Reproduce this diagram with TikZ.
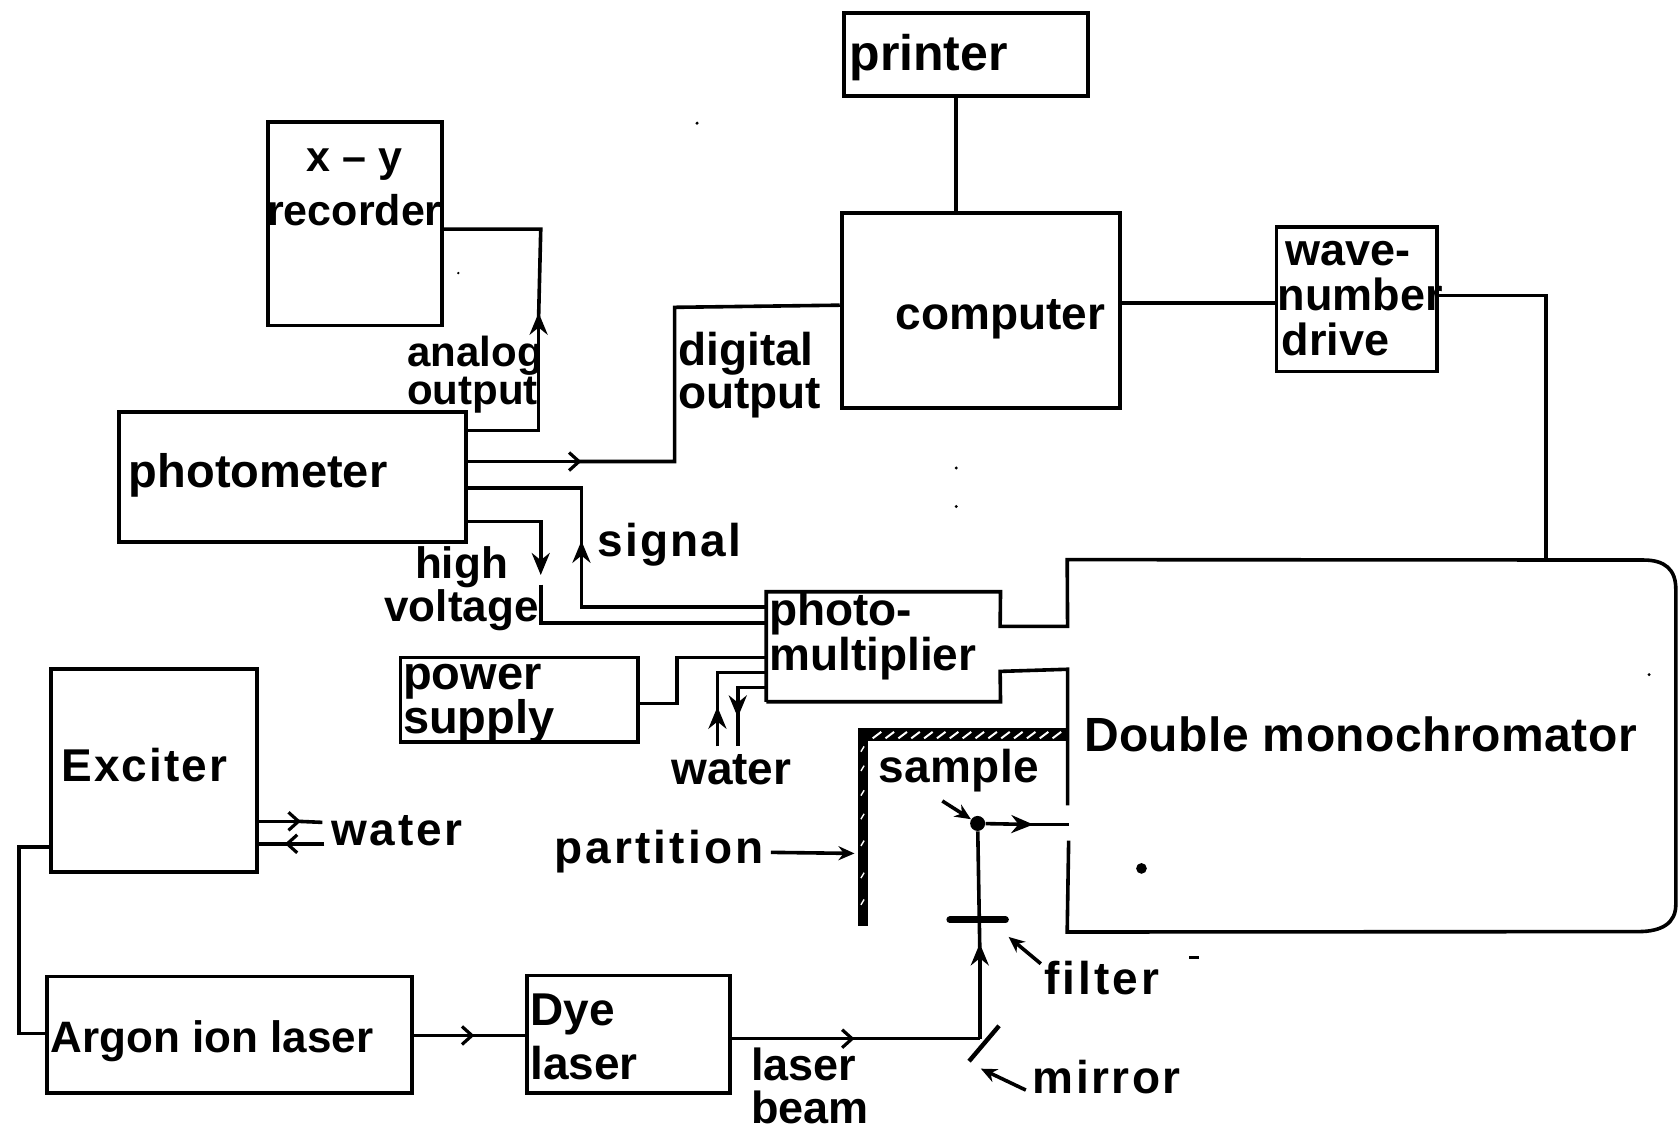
\documentclass[tikz,border=0pt]{standalone}
\usepackage{fontspec}
\setmainfont{Liberation Sans}
\usetikzlibrary{fit,arrows.meta,calc}
\newcommand\fsz[2]{\fontsize{#1}{#2}\selectfont\bfseries}
\newcommand\fsl[3]{\fontsize{#1}{#2}\selectfont\bfseries\addfontfeature{LetterSpace=#3}}
\tikzset{
  box/.style={draw=black,line width=1.9pt,inner sep=0pt,line join=miter},
  ghost/.style={inner sep=0pt},
  wire/.style={draw=black,line width=1.8pt,line join=miter},
  tipf/.style={wire,-{Stealth[length=11pt,width=9pt]}},
  tipb/.style={wire,-{Straight Barb[length=5pt,width=9pt,line width=1.6pt]}},
  ptr/.style={wire,-{Stealth[length=8pt,width=7pt]}},
  lab/.style={anchor=west,inner sep=0pt,align=left,text=black},
  labc/.style={inner sep=0pt,align=center,text=black},
  speck/.style={fill=black,draw=none}
}
\begin{document}
\begin{tikzpicture}[x=0.5354pt,y=-0.5354pt]
\useasboundingbox (0,0) rectangle (1568,1058);
% boxes
\node[box,fit={(788,12)(1016,90)}] (printer) {};
\node[box,fit={(250,114)(413,304)}] (recorder) {};
\node[box,fit={(786,199)(1046,381)}] (computer) {};
\node[box,fit={(1192,212)(1342,347)}] (wave) {};
\node[box,fit={(111,385)(435,506)}] (photometer) {};
\node[box,fit={(374,614)(596,693)}] (power) {};
\node[box,fit={(48,625)(240,814)}] (exciter) {};
\node[box,fit={(44,912)(385,1021)}] (argon) {};
\node[box,fit={(492,911)(682,1021)}] (dye) {};
\node[ghost,fit={(716,553)(934,655)}] (pm) {};
\node[ghost,fit={(997,523)(1565,870)}] (mono) {};
\coordinate (mirrorpt) at (915,970);
\node[circle,fill=black,minimum size=7.5pt,inner sep=0pt] (sampledot) at (913,769) {};
\coordinate (slit) at (998,770);
\coordinate (wA) at (301,768);
\coordinate (wB) at (303,788);
\coordinate (wC) at (670,697);
\coordinate (wD) at (689,697);
% photomultiplier and monochromator outline
\draw[wire,rounded corners=0pt] (pm.south west) -- (pm.north west) -- (pm.north east) -- (934,585) -- (997,585) -- (mono.north west)
  -- (1535,523) .. controls (1555,523) and (1565,532) .. (1565,550)
  -- (1565,845) .. controls (1565,862) and (1552,870) .. (1530,870)
  -- (mono.south west) -- (998,785);
\draw[wire] (997,752) -- (997,625) -- (934,627) -- (pm.south east) -- (pm.south west);
% partition
\fill[black] (801,680) rectangle (811,865);
\fill[black] (801,680) rectangle (997,692);
\foreach \x in {815,827,...,985}{\draw[white,line width=1pt] (\x,689.5) -- (\x+8,683.5);}
\foreach \y in {697,715,738,760,785,815,840}{\draw[white,line width=.7pt] (804,\y+5) -- (807,\y);}
% connectors
\draw[wire] (printer.south -| 893,0) -- (893,199);
\draw[tipf] (photometer.east |- 0,402) -- (503,402) -- (503,292);
\draw[wire] (503,296) -- (505,214) -- (recorder.east |- 0,214);
\draw[tipb] (photometer.east |- 0,431) -- (543,431);
\draw[wire] (540,431) -- (630,431) -- (630,287) -- (computer.west |- 0,285);
\draw[tipf] (pm.west |- 0,567) -- (543,567) -- (543,505);
\draw[wire] (543,510) -- (543,456) -- (photometer.east |- 0,456);
\draw[tipf] (photometer.east |- 0,487) -- (505,487) -- (505,537);
\draw[wire] (505,546) -- (505,582) -- (pm.west |- 0,582);
\draw[wire] (power.east |- 0,657) -- (632,657) -- (632,614) -- (pm.west |- 0,614);
\draw[tipf] (wC) -- (670,660);
\draw[wire] (670,665) -- (670,628) -- (pm.west |- 0,628);
\draw[tipf] (pm.west |- 0,642) -- (689,642) -- (689,670);
\draw[wire] (689,665) -- (wD);
\draw[wire] (computer.east |- 0,283) -- (wave.west |- 0,283);
\draw[wire] (wave.east |- 0,276) -- (1444,276) -- (1444,0 |- mono.north);
\draw[tipb] (exciter.east |- 0,767) -- (281,767);
\draw[wire] (278,767) -- (wA);
\draw[tipb] (wB) -- (266,788);
\draw[wire] (270,788) -- (exciter.east |- 0,788);
\draw[wire] (exciter.west |- 0,791) -- (18,791) -- (18,965) -- (argon.west |- 0,965);
\draw[tipb] (argon.east |- 0,967) -- (443,967);
\draw[wire] (440,967) -- (dye.west |- 0,967);
\draw[tipb] (dye.east |- 0,970) -- (798,970);
\draw[wire] (795,970) -- (mirrorpt);
\draw[tipf] (mirrorpt) -- (915,881);
\draw[wire] (915,885) -- (sampledot);
\draw[tipf] (sampledot) -- (965,770);
\draw[wire] (960,770) -- (slit);
% mirror and filter
\draw[black,line width=2.2pt] (905,991) -- (933,958);
\draw[black,line width=3.4pt,line cap=round] (887,859) -- (939,859);
% pointers
\draw[ptr] (880,748) -- (sampledot);
\draw[ptr] (972,900) -- (942,875);
\draw[ptr] (958,1018) -- (916,998);
\draw[ptr] (720,796) -- (798,797);
% labels
\node[lab,font=\fsz{25}{26}] (tprinter) at (793,54) {printer};
\node[labc,font=\fsz{21.5}{26}] (trec) at (331,175) {x -- y\\[1pt]recorder};
\node[lab,font=\fsz{23}{26}] (tcomp) at (836,298) {computer};
\node[lab,font=\fsz{22.5}{22.5}] (twave) at (1193,279) {\hspace{4pt}wave-\\number\\\hspace{2pt}drive};
\node[lab,font=\fsz{23.5}{26}] (tphoto) at (120,444) {photometer};
\node[lab,font=\fsz{21}{19}] (tana) at (380,350) {analog\\output};
\node[lab,font=\fsz{23}{21.5}] (tdig) at (633,350) {digital\\output};
\node[lab,font=\fsl{23}{26}{4.5}] (tsig) at (558,509) {signal};
\node[labc,font=\fsz{22}{20.5}] (thv) at (431,550) {high\\voltage};
\node[lab,font=\fsz{23}{19.5}] (tpm) at (718,594) {photo-\\multiplier};
\node[lab,font=\fsz{23.5}{22}] (tps) at (376,657) {power\\supply};
\node[labc,font=\fsz{23}{26}] (twat) at (683,719) {water};
\node[lab,font=\fsl{23}{26}{4.5}] (tex) at (57,714) {Exciter};
\node[lab,font=\fsl{23}{26}{6}] (twat2) at (309,776) {water};
\node[lab,font=\fsl{23}{26}{7}] (tpart) at (517,795) {partition};
\node[lab,font=\fsl{23}{26}{1}] (tsamp) at (820,720) {sample};
\node[lab,font=\fsl{23}{26}{6.5}] (tfil) at (975,913) {filter};
\node[lab,font=\fsl{23}{26}{5.5}] (tmir) at (964,1006) {mirror};
\node[lab,font=\fsz{22}{26}] (targ) at (47,972) {Argon ion laser};
\node[lab,font=\fsz{23}{27}] (tdye) at (495,968) {Dye\\laser};
\node[lab,font=\fsz{22.5}{21.5}] (tbeam) at (701,1014) {laser\\beam};
\node[lab,font=\fsl{24}{26}{1}] (tmono) at (1012,686) {Double monochromator};
% specks
\fill[speck] (1066,811) circle (5);
\fill[speck] (651,115) circle (1.6);
\fill[speck] (428,255) circle (1.2);
\fill[speck] (893,437) circle (1.5);
\fill[speck] (893,473) circle (1.5);
\fill[speck] (1540,630) circle (1.5);
\fill[speck] (1110,893) rectangle (1120,896);
\end{tikzpicture}
\end{document}
